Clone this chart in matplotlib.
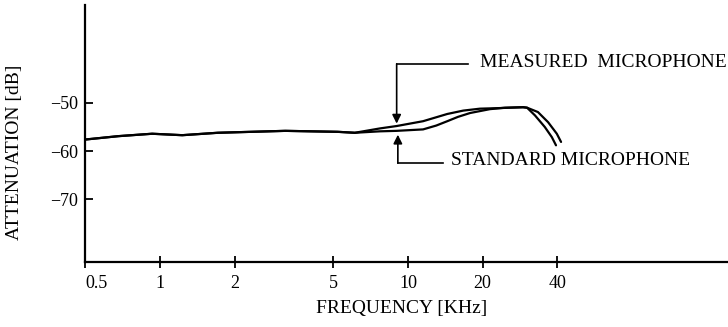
import numpy as np
import matplotlib
matplotlib.use("Agg")
import matplotlib.pyplot as plt
from matplotlib.ticker import FixedLocator, FixedFormatter, NullLocator

# ----------------------------------------------------
# Data
# ----------------------------------------------------
# shared part of both curves, kHz / dB
common_f = [0.5, 0.68, 0.93, 1.23, 1.71, 3.2, 5.2, 6.1]
common_db = [-57.6, -56.9, -56.4, -56.7, -56.2, -55.8, -56.0, -56.2]

measured_f = [7.7, 9.0, 11.5, 14.4, 16.7, 19.5, 22.8, 29.1, 30.2, 33.4, 36.7, 39.8, 41.4]
measured_db = [-55.3, -54.8, -53.8, -52.3, -51.6, -51.2, -51.1, -50.9, -51.0,
               -51.9, -54.0, -56.4, -58.1]

standard_f = [7.7, 9.0, 11.5, 13.0, 14.4, 15.9, 17.8, 21.4, 24.6, 29.1, 30.2,
              32.5, 35.6, 38.0, 39.5]
standard_db = [-55.9, -55.8, -55.5, -54.7, -53.8, -52.9, -52.1, -51.3, -51.0,
               -50.9, -51.0, -52.6, -55.0, -57.1, -58.8]

x_ticks = [0.5, 1, 2, 5, 10, 20, 40]
x_labels = ["0.5", "1", "2", "5", "10", "20", "40"]
y_ticks = [-70, -60, -50]
y_labels = ["\u221270", "\u221260", "\u221250"]

# ----------------------------------------------------
# Figure
# ----------------------------------------------------
plt.rcParams["font.family"] = ["Liberation Serif", "DejaVu Serif"]

fig = plt.figure(figsize=(7.28, 3.27), dpi=100)
ax = fig.add_axes([85.3 / 728, 1 - 262 / 327, 642.7 / 728, 257 / 327])

mf = common_f + measured_f
mdb = common_db + measured_db
sf = common_f + standard_f
sdb = common_db + standard_db

ax.plot(mf, mdb, color="black", lw=1.6, solid_capstyle="round")
ax.plot(sf, sdb, color="black", lw=1.6, solid_capstyle="round")

ax.set_xscale("log")
ax.set_xlim(0.5, 195)
ax.set_ylim(-83, -29.7)

for side in ["top", "right"]:
    ax.spines[side].set_visible(False)
for side in ["left", "bottom"]:
    ax.spines[side].set_linewidth(1.6)

ax.xaxis.set_major_locator(FixedLocator(x_ticks))
ax.xaxis.set_major_formatter(FixedFormatter(x_labels))
ax.xaxis.set_minor_locator(NullLocator())
ax.yaxis.set_major_locator(FixedLocator(y_ticks))
ax.yaxis.set_major_formatter(FixedFormatter(y_labels))

ax.tick_params(axis="x", direction="inout", length=8, width=1.3,
               labelsize=13, pad=5)
ax.tick_params(axis="y", direction="in", length=6, width=1.3,
               labelsize=13, pad=5)
ax.get_xticklabels()[0].set_horizontalalignment("left")

# ----------------------------------------------------
# Annotations
# ----------------------------------------------------
ax.plot([9.0, 17.4], [-41.9, -41.9], color="black", lw=1.2)
ax.annotate("", xy=(9.0, -54.3), xytext=(9.0, -41.9),
            arrowprops=dict(arrowstyle="-|>", color="black", lw=1.2,
                            mutation_scale=13, shrinkA=0, shrinkB=0))
ax.text(19.5, -41.6, "MEASURED  MICROPHONE", fontsize=14,
        ha="left", va="center")

ax.plot([9.1, 13.8], [-62.5, -62.5], color="black", lw=1.2)
ax.annotate("", xy=(9.1, -56.6), xytext=(9.1, -62.5),
            arrowprops=dict(arrowstyle="-|>", color="black", lw=1.2,
                            mutation_scale=13, shrinkA=0, shrinkB=0))
ax.text(14.9, -61.9, "STANDARD MICROPHONE", fontsize=14,
        ha="left", va="center")

fig.text(402 / 728, 1 - 309 / 327, "FREQUENCY [KHz]", fontsize=14,
         ha="center", va="center")
fig.text(15 / 728, 1 - 152 / 327, "ATTENUATION [dB]", fontsize=14,
         rotation=90, ha="center", va="center")

fig.savefig("out.png", dpi=100)
